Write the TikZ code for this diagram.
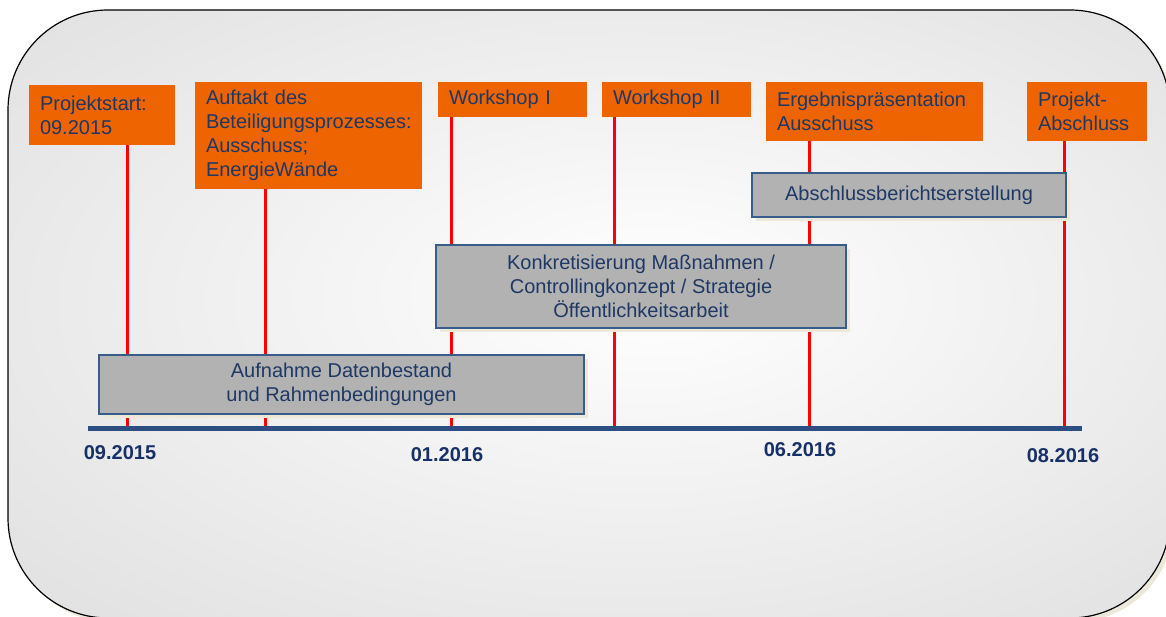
\documentclass[tikz,border=0pt]{standalone}
\usepackage{fontspec}
\setmainfont{Liberation Sans}
\usetikzlibrary{positioning}
\definecolor{orangebox}{RGB}{238,100,0}
\definecolor{navytext}{RGB}{31,56,100}
\definecolor{datetext}{RGB}{24,48,104}
\definecolor{graybox}{RGB}{178,178,178}
\definecolor{grayline}{RGB}{56,93,138}
\definecolor{timebar}{RGB}{44,78,128}
\definecolor{bggray}{RGB}{218,218,218}
\definecolor{cream}{RGB}{236,232,218}
\pgfdeclareradialshading{bgshade}{\pgfpoint{3bp}{2bp}}{color(0bp)=(white); color(44bp)=(bggray); color(50bp)=(bggray)}
\tikzset{>=latex,
  milestone/.style={fill=orangebox, anchor=north west, align=left, outer sep=0pt, inner xsep=11pt, text=navytext, font=\fontsize{20}{24}\selectfont},
  phase/.style={draw=grayline, line width=1.5pt, fill=graybox, align=center, text=navytext, font=\fontsize{20}{24}\selectfont, preaction={fill=cream, transform canvas={shift={(4pt,-4pt)}}}},
  datum/.style={text=datetext, font=\bfseries\fontsize{20}{24}\selectfont},
  markline/.style={red, line width=3pt}
}

\begin{document}
\begin{tikzpicture}[x=1pt, y=-1pt]
      \useasboundingbox (0,0) rectangle (1166,617);
      \fill[cream, rounded corners=100pt] (12,14) rectangle (1174,622);
      \shade[shading=bgshade, rounded corners=100pt] (8,10) rectangle (1170,618);
      \draw[line width=1.2pt, rounded corners=100pt] (8,10) rectangle (1170,618);
      \node[milestone, minimum height=60pt, text width=124pt] (m1) at (29,85) {Projektstart:\\09.2015};
      \node[milestone, minimum height=107pt, text width=205pt] (m2) at (195,82) {Auftakt des\\Beteiligungsprozesses:\\Ausschuss;\\EnergieWände};
      \node[milestone, minimum height=35pt, text width=127pt] (m3) at (438,82) {Workshop I};
      \node[milestone, minimum height=35pt, text width=127pt] (m4) at (602,82) {Workshop II};
      \node[milestone, minimum height=59pt, text width=195pt] (m5) at (766,82) {Ergebnispräsentation\\Ausschuss};
      \node[milestone, minimum height=59pt, text width=98pt] (m6) at (1027,82) {Projekt-\\Abschluss};
      \coordinate (t1) at (127,428);
      \coordinate (t2) at (265,428);
      \coordinate (t3) at (451,428);
      \coordinate (t4) at (614,428);
      \coordinate (t5) at (809,428);
      \coordinate (t6) at (1064,428);
      \foreach \m/\t in {m1/t1, m2/t2, m3/t3, m4/t4, m5/t5, m6/t6}
        \draw[markline] (\m.south -| \t) -- (\t);
      \coordinate (tl0) at (88,428);
      \coordinate (tl1) at (1082,428);
      \draw[timebar, line width=5pt] (tl0) -- (tl1);
      \node[phase, minimum width=314pt, minimum height=44pt] (p3) at (909,195) {Abschlussberichtserstellung};
      \node[phase, minimum width=410pt, minimum height=83pt] (p2) at (641,286.5) {Konkretisierung Maßnahmen /\\Controllingkonzept / Strategie\\Öffentlichkeitsarbeit};
      \node[phase, minimum width=485pt, minimum height=59pt] (p1) at (341.5,384.5) {Aufnahme Datenbestand\\und Rahmenbedingungen};
      \node[datum] (d1) at (120,453) {09.2015};
      \node[datum] (d2) at (447,455) {01.2016};
      \node[datum] (d3) at (800,450) {06.2016};
      \node[datum] (d4) at (1063,456) {08.2016};
    \end{tikzpicture}
\end{document}
